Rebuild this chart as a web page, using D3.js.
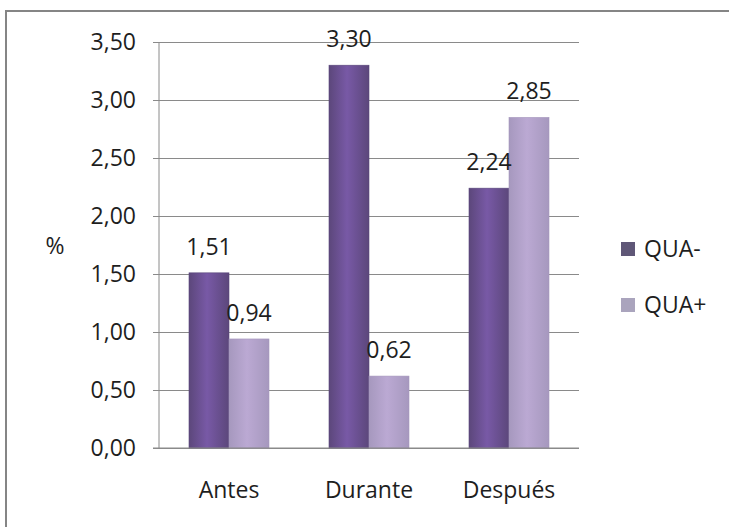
<!DOCTYPE html>
<html>
<head>
<meta charset="utf-8">
<script src="https://cdn.jsdelivr.net/npm/d3@7"></script>
<style>
  html, body { margin: 0; padding: 0; background: #ffffff; }
  svg { display: block; }
  text { font-family: "Open Sans", "Noto Sans", sans-serif; fill: #1e1e1e; }
</style>
</head>
<body>
<svg id="chart" width="729" height="527"></svg>
<script>
// Categories, series and tick labels
const categories = ["Antes", "Durante", "Después"];
const seriesNames = ["QUA-", "QUA+"];
const quaMinus = [1.51, 3.30, 2.24];
const quaPlus = [0.94, 0.62, 2.85];
const yTicks = [0, 0.5, 1, 1.5, 2, 2.5, 3, 3.5];

const fmt = v => v.toFixed(2).replace(".", ",");

const svg = d3.select("#chart");
const W = 729, H = 527;

// Outer frame (extends past the right and bottom edges)
svg.append("rect")
  .attr("x", 6).attr("y", 11)
  .attr("width", W + 20).attr("height", H + 20)
  .attr("fill", "#ffffff")
  .attr("stroke", "#858585")
  .attr("stroke-width", 2);

const plot = { left: 159, right: 579, top: 42, bottom: 448 };

const x = d3.scaleBand()
  .domain(categories)
  .range([plot.left, plot.right])
  .paddingInner(0).paddingOuter(0);

const bandInner = d3.scaleBand()
  .domain(seriesNames)
  .range([0, x.bandwidth()])
  .paddingInner(0)
  .paddingOuter(0.75); // gap width 150%

const y = d3.scaleLinear().domain([0, 3.5]).range([plot.bottom, plot.top]);

// Gradients for the bars
const defs = svg.append("defs");
function grad(id, edge, mid) {
  const g = defs.append("linearGradient").attr("id", id)
    .attr("x1", "0%").attr("x2", "100%").attr("y1", "0%").attr("y2", "0%");
  g.append("stop").attr("offset", "0%").attr("stop-color", edge);
  g.append("stop").attr("offset", "45%").attr("stop-color", mid);
  g.append("stop").attr("offset", "100%").attr("stop-color", edge);
}
grad("gDark", "#5c477b", "#7859a6");
grad("gLight", "#a698be", "#bba9d3");
const fills = { "QUA-": "url(#gDark)", "QUA+": "url(#gLight)" };
const strokes = { "QUA-": "#58467a", "QUA+": "#a697bd" };
const legendFill = { "QUA-": "#5f5777", "QUA+": "#aaa4bd" };

// Y axis with gridlines
const yAxis = d3.axisLeft(y)
  .tickValues(yTicks)
  .tickFormat(fmt)
  .tickSizeInner(-(plot.right - plot.left))
  .tickSizeOuter(0)
  .tickPadding(23);

const gy = svg.append("g")
  .attr("transform", `translate(${plot.left},0)`)
  .call(yAxis);
gy.select(".domain").remove();
gy.selectAll(".tick line")
  .attr("x1", -6)
  .attr("stroke", "#8a8a8a")
  .attr("stroke-width", 1);
gy.selectAll(".tick text")
  .attr("font-size", 23)
  .attr("font-family", "'Open Sans', sans-serif")
  .attr("fill", "#1e1e1e");

// Vertical axis line
svg.append("line")
  .attr("x1", plot.left).attr("x2", plot.left)
  .attr("y1", y(3.5)).attr("y2", y(0))
  .attr("stroke", "#8a8a8a").attr("stroke-width", 1);

// Bars
const rows = categories.map((c, i) => ({
  cat: c,
  vals: [{ s: "QUA-", v: quaMinus[i] }, { s: "QUA+", v: quaPlus[i] }]
}));

const groups = svg.append("g").selectAll("g")
  .data(rows).join("g")
  .attr("transform", d => `translate(${x(d.cat)},0)`);

groups.selectAll("rect")
  .data(d => d.vals).join("rect")
  .attr("x", d => bandInner(d.s))
  .attr("width", bandInner.bandwidth())
  .attr("y", d => y(d.v))
  .attr("height", d => y(0) - y(d.v))
  .attr("fill", d => fills[d.s])
  .attr("stroke", d => strokes[d.s])
  .attr("stroke-width", 0.6);

// Value labels
groups.selectAll("text.val")
  .data(d => d.vals).join("text")
  .attr("class", "val")
  .attr("x", d => bandInner(d.s) + bandInner.bandwidth() / 2)
  .attr("y", d => y(d.v) - 18)
  .attr("text-anchor", "middle")
  .attr("font-size", 23)
  .text(d => fmt(d.v));

// Baseline drawn over the bars
svg.append("line")
  .attr("x1", plot.left - 6).attr("x2", plot.right)
  .attr("y1", y(0)).attr("y2", y(0))
  .attr("stroke", "#8a8a8a").attr("stroke-width", 1);

// Category labels
svg.append("g").selectAll("text")
  .data(categories).join("text")
  .attr("x", d => x(d) + x.bandwidth() / 2)
  .attr("y", 498)
  .attr("text-anchor", "middle")
  .attr("font-size", 23)
  .text(d => d);

// Axis title
svg.append("text")
  .attr("x", 55).attr("y", 254)
  .attr("text-anchor", "middle")
  .attr("font-size", 23)
  .text("%");

// Legend
const legend = svg.append("g").selectAll("g")
  .data(seriesNames).join("g")
  .attr("transform", (d, i) => `translate(621,${242 + i * 56})`);
legend.append("rect")
  .attr("width", 14).attr("height", 14)
  .attr("fill", d => legendFill[d]);
legend.append("text")
  .attr("x", 23).attr("y", 15)
  .attr("font-size", 23)
  .text(d => d);
</script>
</body>
</html>
